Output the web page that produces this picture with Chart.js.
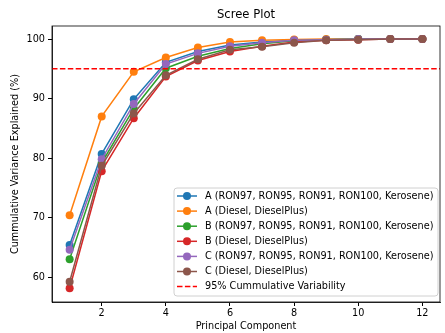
<!DOCTYPE html>
<html>
<head>
<meta charset="utf-8">
<script src="https://cdn.jsdelivr.net/npm/chart.js@4.4.1/dist/chart.umd.min.js"></script>
<style>
  html, body { margin: 0; padding: 0; background: #fff; }
  #wrap { width: 445px; height: 333px; }
</style>
</head>
<body>
<div id="wrap"><canvas id="chartScree" width="445" height="333"></canvas></div>
<script>
//* DATOS
const components = [1, 2, 3, 4, 5, 6, 7, 8, 9, 10, 11, 12];
const seriesNames = [
    'A (RON97, RON95, RON91, RON100, Kerosene)',
    'A (Diesel, DieselPlus)',
    'B (RON97, RON95, RON91, RON100, Kerosene)',
    'B (Diesel, DieselPlus)',
    'C (RON97, RON95, RON91, RON100, Kerosene)',
    'C (Diesel, DieselPlus)'
];
const aGasolina = [65.4, 80.7, 89.9, 96.1, 97.9, 99.0, 99.5, 99.8, 99.9, 100, 100, 100];
const aDiesel   = [70.4, 87.0, 94.5, 96.9, 98.6, 99.5, 99.8, 99.95, 100, 100, 100, 100];
const bGasolina = [63.0, 79.2, 88.3, 95.1, 97.1, 98.4, 99.2, 99.7, 99.9, 100, 100, 100];
const bDiesel   = [58.1, 77.8, 86.7, 93.7, 96.4, 97.9, 98.8, 99.5, 99.8, 99.9, 100, 100];
const cGasolina = [64.6, 79.8, 89.1, 95.8, 97.6, 98.8, 99.4, 99.8, 99.9, 100, 100, 100];
const cDiesel   = [59.2, 78.7, 87.5, 93.9, 96.6, 98.2, 98.7, 99.4, 99.8, 99.9, 100, 100];
const threshold = 95;
const thresholdLabel = '95% Cummulative Variability';
const xTicks = [2, 4, 6, 8, 10, 12];
const yTicks = [60, 70, 80, 90, 100];

const allSeries = [aGasolina, aDiesel, bGasolina, bDiesel, cGasolina, cDiesel];
const colors = ['#1f77b4', '#ff7f0e', '#2ca02c', '#d62728', '#9467bd', '#8c564b'];
const FONT = '"DejaVu Sans", sans-serif';

const datasets = allSeries.map((vals, i) => ({
    label: seriesNames[i],
    data: vals.map((v, j) => ({ x: components[j], y: v })),
    borderColor: colors[i],
    backgroundColor: colors[i],
    borderWidth: 1.5,
    pointRadius: 4,
    pointBorderWidth: 0,
    pointBackgroundColor: colors[i],
    order: allSeries.length - i,
    tension: 0
}));

// title, frame, threshold line and legend drawn like matplotlib
const decor = {
    id: 'decor',
    afterDatasetsDraw(chart) {
        const { ctx, chartArea: a, scales } = chart;
        const y = scales.y.getPixelForValue(threshold);
        ctx.save();
        ctx.strokeStyle = '#ff0000';
        ctx.lineWidth = 1.5;
        ctx.setLineDash([5.5, 2.4]);
        ctx.beginPath();
        ctx.moveTo(a.left, y);
        ctx.lineTo(a.right, y);
        ctx.stroke();
        ctx.restore();
    },
    afterDraw(chart) {
        const { ctx, chartArea: a } = chart;
        ctx.save();
        // frame
        ctx.strokeStyle = '#000';
        ctx.lineWidth = 0.8;
        ctx.strokeRect(a.left, a.top, a.right - a.left, a.bottom - a.top);
        // titles
        ctx.fillStyle = '#000';
        ctx.textAlign = 'center';
        ctx.textBaseline = 'middle';
        ctx.font = '11.6px ' + FONT;
        ctx.fillText('Scree Plot', (a.left + a.right) / 2, 14.5);
        ctx.font = '9.7px ' + FONT;
        ctx.fillText('Principal Component', (a.left + a.right) / 2, 326);
        ctx.save();
        ctx.translate(15, (a.top + a.bottom) / 2);
        ctx.rotate(-Math.PI / 2);
        ctx.fillText('Cummulative Variance Explained (%)', 0, 0);
        ctx.restore();
        // legend
        const bx = 174, by = 188, bw = 264, bh = 108;
        ctx.beginPath();
        ctx.roundRect(bx, by, bw, bh, 3);
        ctx.fillStyle = 'rgba(255,255,255,0.8)';
        ctx.fill();
        ctx.strokeStyle = '#d0d0d0';
        ctx.lineWidth = 1;
        ctx.stroke();
        const rowH = 15.1;
        ctx.textAlign = 'left';
        ctx.font = '9.7px ' + FONT;
        const rows = seriesNames.length + 1;
        for (let i = 0; i < rows; i++) {
            const ry = by + 8 + i * rowH;
            ctx.lineWidth = 1.5;
            if (i < seriesNames.length) {
                ctx.strokeStyle = colors[i];
                ctx.setLineDash([]);
                ctx.beginPath();
                ctx.moveTo(177, ry);
                ctx.lineTo(197, ry);
                ctx.stroke();
                ctx.fillStyle = colors[i];
                ctx.beginPath();
                ctx.arc(187, ry, 4, 0, Math.PI * 2);
                ctx.fill();
            } else {
                ctx.strokeStyle = '#ff0000';
                ctx.setLineDash([5.5, 2.4]);
                ctx.beginPath();
                ctx.moveTo(177, ry);
                ctx.lineTo(197, ry);
                ctx.stroke();
                ctx.setLineDash([]);
            }
            ctx.fillStyle = '#000';
            ctx.fillText(i < seriesNames.length ? seriesNames[i] : thresholdLabel, 205, ry);
        }
        ctx.restore();
    }
};

const tickFont = { family: FONT, size: 9.7 };

new Chart(document.getElementById('chartScree'), {
    type: 'line',
    data: { datasets },
    options: {
        responsive: false,
        animation: false,
        layout: { padding: { left: 0, top: 26, right: 5, bottom: 0 } },
        plugins: {
            legend: { display: false },
            title: { display: false },
            tooltip: { enabled: false }
        },
        scales: {
            x: {
                type: 'linear',
                min: 0.45,
                max: 12.55,
                afterBuildTicks: s => { s.ticks = xTicks.map(v => ({ value: v })); },
                afterFit: s => { s.height = 31; },
                grid: { drawOnChartArea: false, drawTicks: true, tickLength: 4, color: '#000' },
                border: { display: true, color: '#000', width: 0.8 },
                ticks: { font: tickFont, color: '#000', padding: 2, maxRotation: 0 }
            },
            y: {
                type: 'linear',
                min: 55.8,
                max: 102.2,
                afterBuildTicks: s => { s.ticks = yTicks.map(v => ({ value: v })); },
                afterFit: s => { s.width = 52; },
                grid: { drawOnChartArea: false, drawTicks: true, tickLength: 4, color: '#000' },
                border: { display: true, color: '#000', width: 0.8 },
                ticks: { font: tickFont, color: '#000', padding: 3 }
            }
        }
    },
    plugins: [decor]
});
</script>
</body>
</html>
